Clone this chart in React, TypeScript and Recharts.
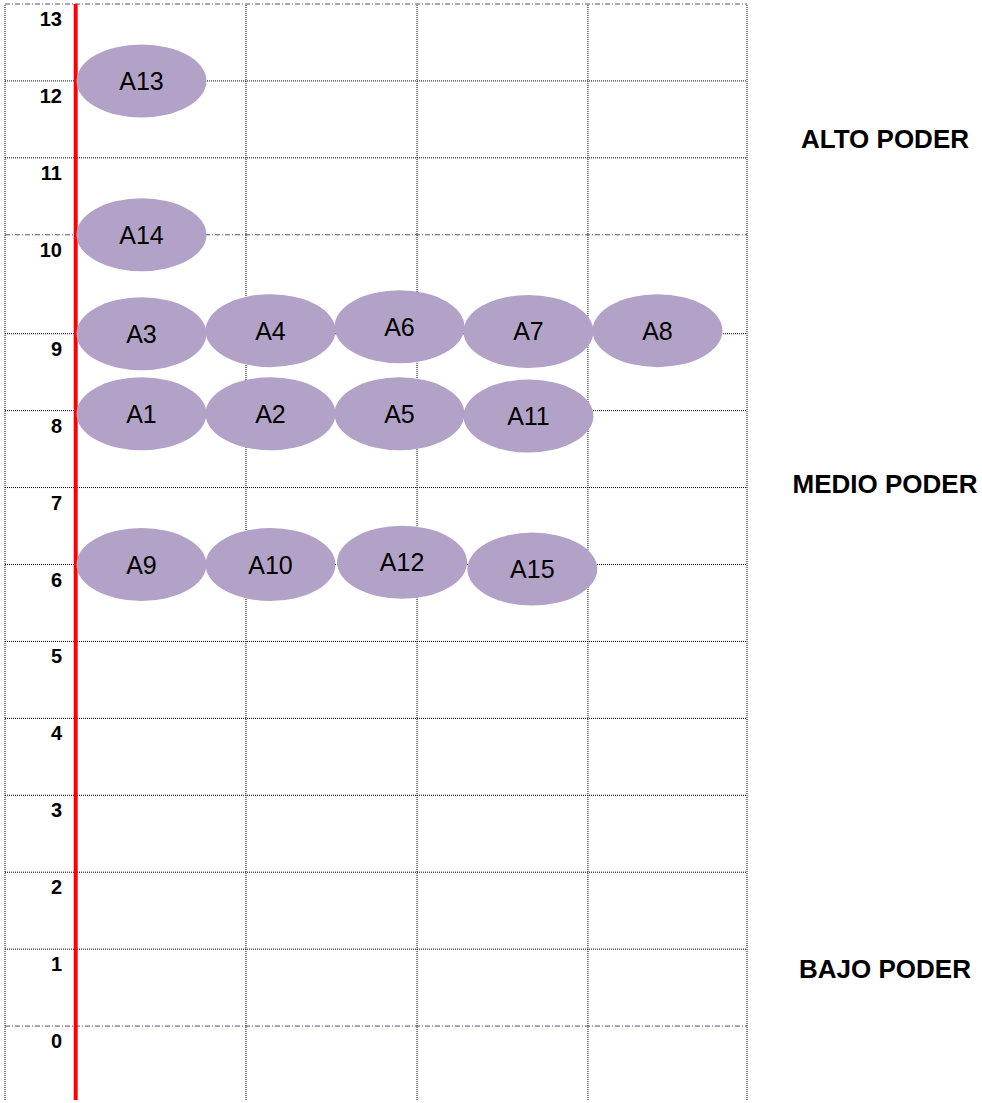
import { ReferenceLine, Scatter, ScatterChart, XAxis, YAxis } from "recharts";

// actors (ellipses): name, column slot, power level
const actors = ["A13", "A14", "A3", "A4", "A6", "A7", "A8", "A1", "A2", "A5", "A11", "A9", "A10", "A12", "A15"];
const actorColumn = [1, 1, 1, 2, 3, 4, 5, 1, 2, 3, 4, 1, 2, 3.02, 4.03];
const actorLevel = [12, 10, 9, 9.04, 9.09, 9.03, 9.04, 7.96, 7.96, 7.96, 7.93, 6, 6, 6.03, 5.94];

const levelTicks = [0, 1, 2, 3, 4, 5, 6, 7, 8, 9, 10, 11, 12, 13];
const dashDotLevels = [13, 10, 0];

const powerBands = ["ALTO PODER", "MEDIO PODER", "BAJO PODER"];
const powerBandLevel = [11.25, 7.05, 0.74];

// the sheet leaves a taller row between 9 and 10
const ROW_GAP = 0.286;
const toPos = (level: number) => (level >= 10 ? level + ROW_GAP : level);
const fromPos = (pos: number) => (pos >= 10 ? Math.round(pos - ROW_GAP) : Math.round(pos));

const W = 982;
const H = 1103;
const X_MIN = -0.058;
const X_MAX = 5.694;
const Y_MIN = -0.961;
const Y_MAX = toPos(13);
const columnLines = [X_MIN, 1.81, 3.136, 4.461, X_MAX];
const AXIS_X = 0.49;

const FONT = "'Liberation Sans', Arial, sans-serif";
const FILL = "#b3a2c7";
const DASH_DOT = "#564785";

const data = actors.map((name, i) => ({ name, x: actorColumn[i], y: toPos(actorLevel[i]) }));

const Bubble = (props: any) => {
  const { cx, cy, payload } = props;
  return (
    <g>
      <ellipse cx={cx} cy={cy} rx={65} ry={36.5} fill={FILL} />
      <text x={cx} y={cy + 9} textAnchor="middle" fontSize={25} fontFamily={FONT} fill="#000">
        {payload.name}
      </text>
    </g>
  );
};

const LevelTick = ({ y, payload }: any) => (
  <text x={62} y={y + 22} textAnchor="end" fontSize={20} fontWeight="bold" fontFamily={FONT} fill="#000">
    {fromPos(payload.value)}
  </text>
);

const BandTick = ({ y, payload }: any) => {
  const i = powerBandLevel.findIndex((l) => Math.abs(toPos(l) - payload.value) < 1e-6);
  return (
    <text x={W - 97} y={y + 9.3} textAnchor="middle" fontSize={26} fontWeight="bold" fontFamily={FONT} fill="#000">
      {powerBands[i]}
    </text>
  );
};

export default function App() {
  return (
    <div style={{ position: "absolute", left: 0, top: 0, width: W, height: H, background: "#fff" }}>
      <ScatterChart width={W} height={H} margin={{ top: 4, right: 0, bottom: 3, left: 5 }}>
        <XAxis type="number" dataKey="x" domain={[X_MIN, X_MAX]} allowDataOverflow hide />
        <YAxis
          yAxisId="lvl"
          type="number"
          dataKey="y"
          domain={[Y_MIN, Y_MAX]}
          allowDataOverflow
          ticks={levelTicks.map(toPos)}
          mirror
          width={60}
          axisLine={false}
          tickLine={false}
          tick={<LevelTick />}
          interval={0}
        />
        <YAxis
          yAxisId="band"
          orientation="right"
          type="number"
          domain={[Y_MIN, Y_MAX]}
          allowDataOverflow
          ticks={powerBandLevel.map(toPos)}
          width={235}
          axisLine={false}
          tickLine={false}
          tick={<BandTick />}
          interval={0}
        />
        {levelTicks.map((l) => (
          <ReferenceLine
            key={"h" + l}
            yAxisId="lvl"
            y={toPos(l)}
            stroke={dashDotLevels.includes(l) ? DASH_DOT : "#000"}
            strokeDasharray={dashDotLevels.includes(l) ? "5 2 1 2" : "1 1"}
            strokeWidth={1}
          />
        ))}
        {columnLines.map((c) => (
          <ReferenceLine key={"v" + c} yAxisId="lvl" x={c} stroke="#000" strokeDasharray="1 1" strokeWidth={1} />
        ))}
        <Scatter yAxisId="lvl" data={data} shape={<Bubble />} isAnimationActive={false} />
        <ReferenceLine yAxisId="lvl" x={AXIS_X} stroke="#ff0000" strokeWidth={4} />
      </ScatterChart>
    </div>
  );
}
